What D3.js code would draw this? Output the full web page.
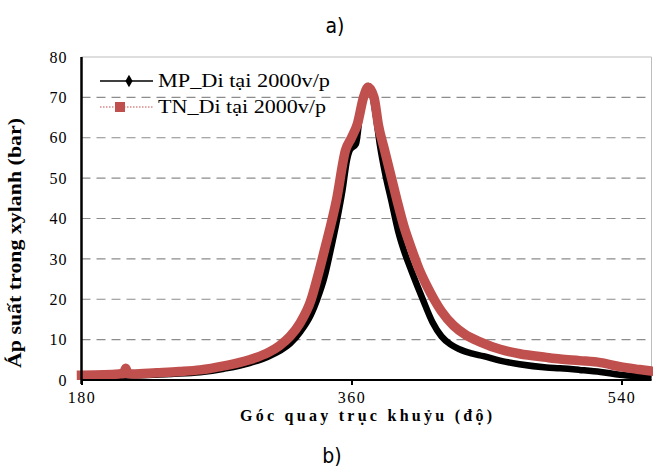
<!DOCTYPE html>
<html>
<head>
<meta charset="utf-8">
<script src="https://cdn.jsdelivr.net/npm/d3@7"></script>
<style>
  body { margin: 0; background: #fff; }
</style>
</head>
<body>
<div id="chart"></div>
<script>
const xTicks = [180, 360, 540];
const yTicks = [0, 10, 20, 30, 40, 50, 60, 70, 80];
const seriesNames = ['MP_Di tại 2000v/p', 'TN_Di tại 2000v/p'];

// MP (black) - angle in degrees, pressure in bar
const mpAngle = [180, 200, 220, 240, 259, 275, 292, 305, 312, 319, 326, 333, 337, 342, 346, 350, 354, 357, 359, 363, 366, 369, 371, 373, 376, 379, 382.5, 386.5, 391, 395, 400, 407.5, 414, 420, 426, 432, 440, 448, 459, 472, 490, 499, 512, 526, 539, 552, 560];
const mpPressure = [0.9, 1.0, 1.2, 1.5, 1.9, 2.8, 4.2, 5.9, 7.2, 9.0, 12.0, 16.2, 19.8, 25.5, 32, 39, 47, 54.5, 57, 58.5, 67, 71.5, 72.8, 72, 66, 58, 51, 44.5, 37, 32, 27, 20, 14.3, 10.8, 8.8, 7.6, 6.6, 5.9, 4.8, 3.9, 3.1, 2.9, 2.5, 2.0, 1.3, 0.9, 0.7];

// TN (red)
const tnAngle = [180, 195, 205, 208, 209.5, 211, 214, 230, 245, 259, 275, 292, 305, 312, 319, 326, 333, 337, 342, 350, 356, 360, 364, 368, 371, 375, 378, 382, 386, 390, 395, 400, 405, 410, 415, 420, 428, 436, 446, 459, 472, 490, 499, 512, 526, 539, 552, 560];
const tnPressure = [1.2, 1.3, 1.5, 1.6, 2.9, 1.6, 1.5, 1.8, 2.1, 2.5, 3.5, 5.0, 6.9, 8.5, 10.8, 14.3, 19.8, 25, 32.2, 44.6, 56.9, 60, 63.5, 70, 72.5, 70, 63, 57, 51, 45, 38, 32.5, 27.5, 23.5, 20, 17, 13.5, 11.2, 9.4, 7.6, 6.5, 5.6, 5.2, 4.8, 4.3, 3.3, 2.6, 2.2];

const width = 653;
const height = 468;
const plotLeft = 81.5;
const plotRight = 651.5;
const plotTop = 57;
const plotBottom = 380;

const black = '#000000';
const red = '#c0504d';
const serif = '"Liberation Serif", "Times New Roman", serif';

const svg = d3.select('#chart')
  .append('svg')
  .attr('width', width)
  .attr('height', height);

const xScale = d3.scaleLinear()
  .domain([180, 560])
  .range([plotLeft, plotRight]);

const yScale = d3.scaleLinear()
  .domain([0, 80])
  .range([plotBottom, plotTop]);

// gridlines
svg.append('g')
  .selectAll('line')
  .data(yTicks.filter((d) => d > 0 && d < 80))
  .enter()
  .append('line')
  .attr('x1', plotLeft)
  .attr('x2', plotRight)
  .attr('y1', (d) => yScale(d))
  .attr('y2', (d) => yScale(d))
  .attr('stroke', '#8c8c8c')
  .attr('stroke-width', 1.2)
  .attr('stroke-dasharray', '9,6');

// top + right frame
svg.append('path')
  .attr('d', `M${plotLeft},${plotTop}H${plotRight}V${plotBottom}`)
  .attr('fill', 'none')
  .attr('stroke', '#bdbdbd')
  .attr('stroke-width', 1);

// series
const mpData = mpAngle.map((a, i) => ({ a, p: mpPressure[i] }));
const tnData = tnAngle.map((a, i) => ({ a, p: tnPressure[i] }));

const line = d3.line()
  .x((d) => xScale(d.a))
  .y((d) => yScale(d.p))
  .curve(d3.curveMonotoneX);

svg.append('path')
  .datum(mpData)
  .attr('d', line)
  .attr('fill', 'none')
  .attr('stroke', black)
  .attr('stroke-width', 6.5)
  .attr('stroke-linejoin', 'round');

svg.append('path')
  .datum(tnData)
  .attr('d', line)
  .attr('fill', 'none')
  .attr('stroke', red)
  .attr('stroke-width', 9.5)
  .attr('stroke-linejoin', 'round')
  .attr('stroke-linecap', 'square');

// axes
const xAxis = d3.axisBottom(xScale)
  .tickValues(xTicks)
  .tickSize(5)
  .tickPadding(7);
const yAxis = d3.axisLeft(yScale)
  .tickValues(yTicks)
  .tickSize(0)
  .tickPadding(14);

const gx = svg.append('g')
  .attr('transform', `translate(0 ${plotBottom})`)
  .call(xAxis);
const gy = svg.append('g')
  .attr('transform', `translate(${plotLeft} 0)`)
  .call(yAxis);

gx.select('.domain').attr('d', `M${plotLeft},0H${plotRight}`).attr('stroke-width', 2);
gy.select('.domain').attr('d', `M0,${plotTop}V${plotBottom + 4}`)
  .attr('stroke-width', 2.5);
gx.selectAll('.tick line').attr('stroke-width', 2);

gx.selectAll('text')
  .style('font-family', serif)
  .style('font-size', '16px')
  .style('letter-spacing', '1.5px')
  .attr('fill', '#000');
gy.selectAll('text')
  .style('font-family', serif)
  .style('font-size', '16px')
  .style('letter-spacing', '1px')
  .attr('fill', '#000');

// axis titles
svg.append('text')
  .attr('x', 366)
  .attr('y', 421)
  .attr('text-anchor', 'middle')
  .attr('textLength', 252)
  .attr('lengthAdjust', 'spacing')
  .style('font-family', serif)
  .style('font-size', '16px')
  .style('font-weight', 'bold')
  .text('Góc quay trục khuỷu (độ)');

svg.append('text')
  .attr('transform', `translate(21 243) rotate(-90)`)
  .attr('text-anchor', 'middle')
  .attr('textLength', 250)
  .attr('lengthAdjust', 'spacingAndGlyphs')
  .style('font-family', serif)
  .style('font-size', '18px')
  .style('font-weight', 'bold')
  .text('Áp suất trong xylanh (bar)');

// panel labels
svg.append('text')
  .attr('x', 335)
  .attr('y', 33)
  .attr('text-anchor', 'middle')
  .style('font-family', '"Liberation Sans Narrow", "DejaVu Sans Condensed", sans-serif')
  .style('font-size', '21px')
  .text('a)');

svg.append('text')
  .attr('x', 332)
  .attr('y', 463)
  .attr('text-anchor', 'middle')
  .style('font-family', '"Liberation Sans Narrow", "DejaVu Sans Condensed", sans-serif')
  .style('font-size', '21px')
  .text('b)');

// legend
const legend = svg.append('g')
  .attr('transform', 'translate(100 81)');

legend.append('line')
  .attr('x1', 0).attr('x2', 53)
  .attr('y1', 0).attr('y2', 0)
  .attr('stroke', black)
  .attr('stroke-width', 1.5);
legend.append('path')
  .attr('d', d3.symbol().type(d3.symbolDiamond).size(45))
  .attr('transform', 'translate(29 0)')
  .attr('fill', black);
legend.append('text')
  .attr('x', 58)
  .attr('y', 6)
  .attr('textLength', 172)
  .attr('lengthAdjust', 'spacingAndGlyphs')
  .style('font-family', serif)
  .style('font-size', '18.5px')
  .text(seriesNames[0]);

legend.append('line')
  .attr('x1', 0).attr('x2', 53)
  .attr('y1', 26).attr('y2', 26)
  .attr('stroke', red)
  .attr('stroke-width', 1)
  .attr('stroke-dasharray', '1.5,1.5');
legend.append('rect')
  .attr('x', 15).attr('y', 21)
  .attr('width', 10).attr('height', 10)
  .attr('fill', red);
legend.append('text')
  .attr('x', 58)
  .attr('y', 32)
  .attr('textLength', 168)
  .attr('lengthAdjust', 'spacingAndGlyphs')
  .style('font-family', serif)
  .style('font-size', '18.5px')
  .text(seriesNames[1]);
</script>
</body>
</html>
